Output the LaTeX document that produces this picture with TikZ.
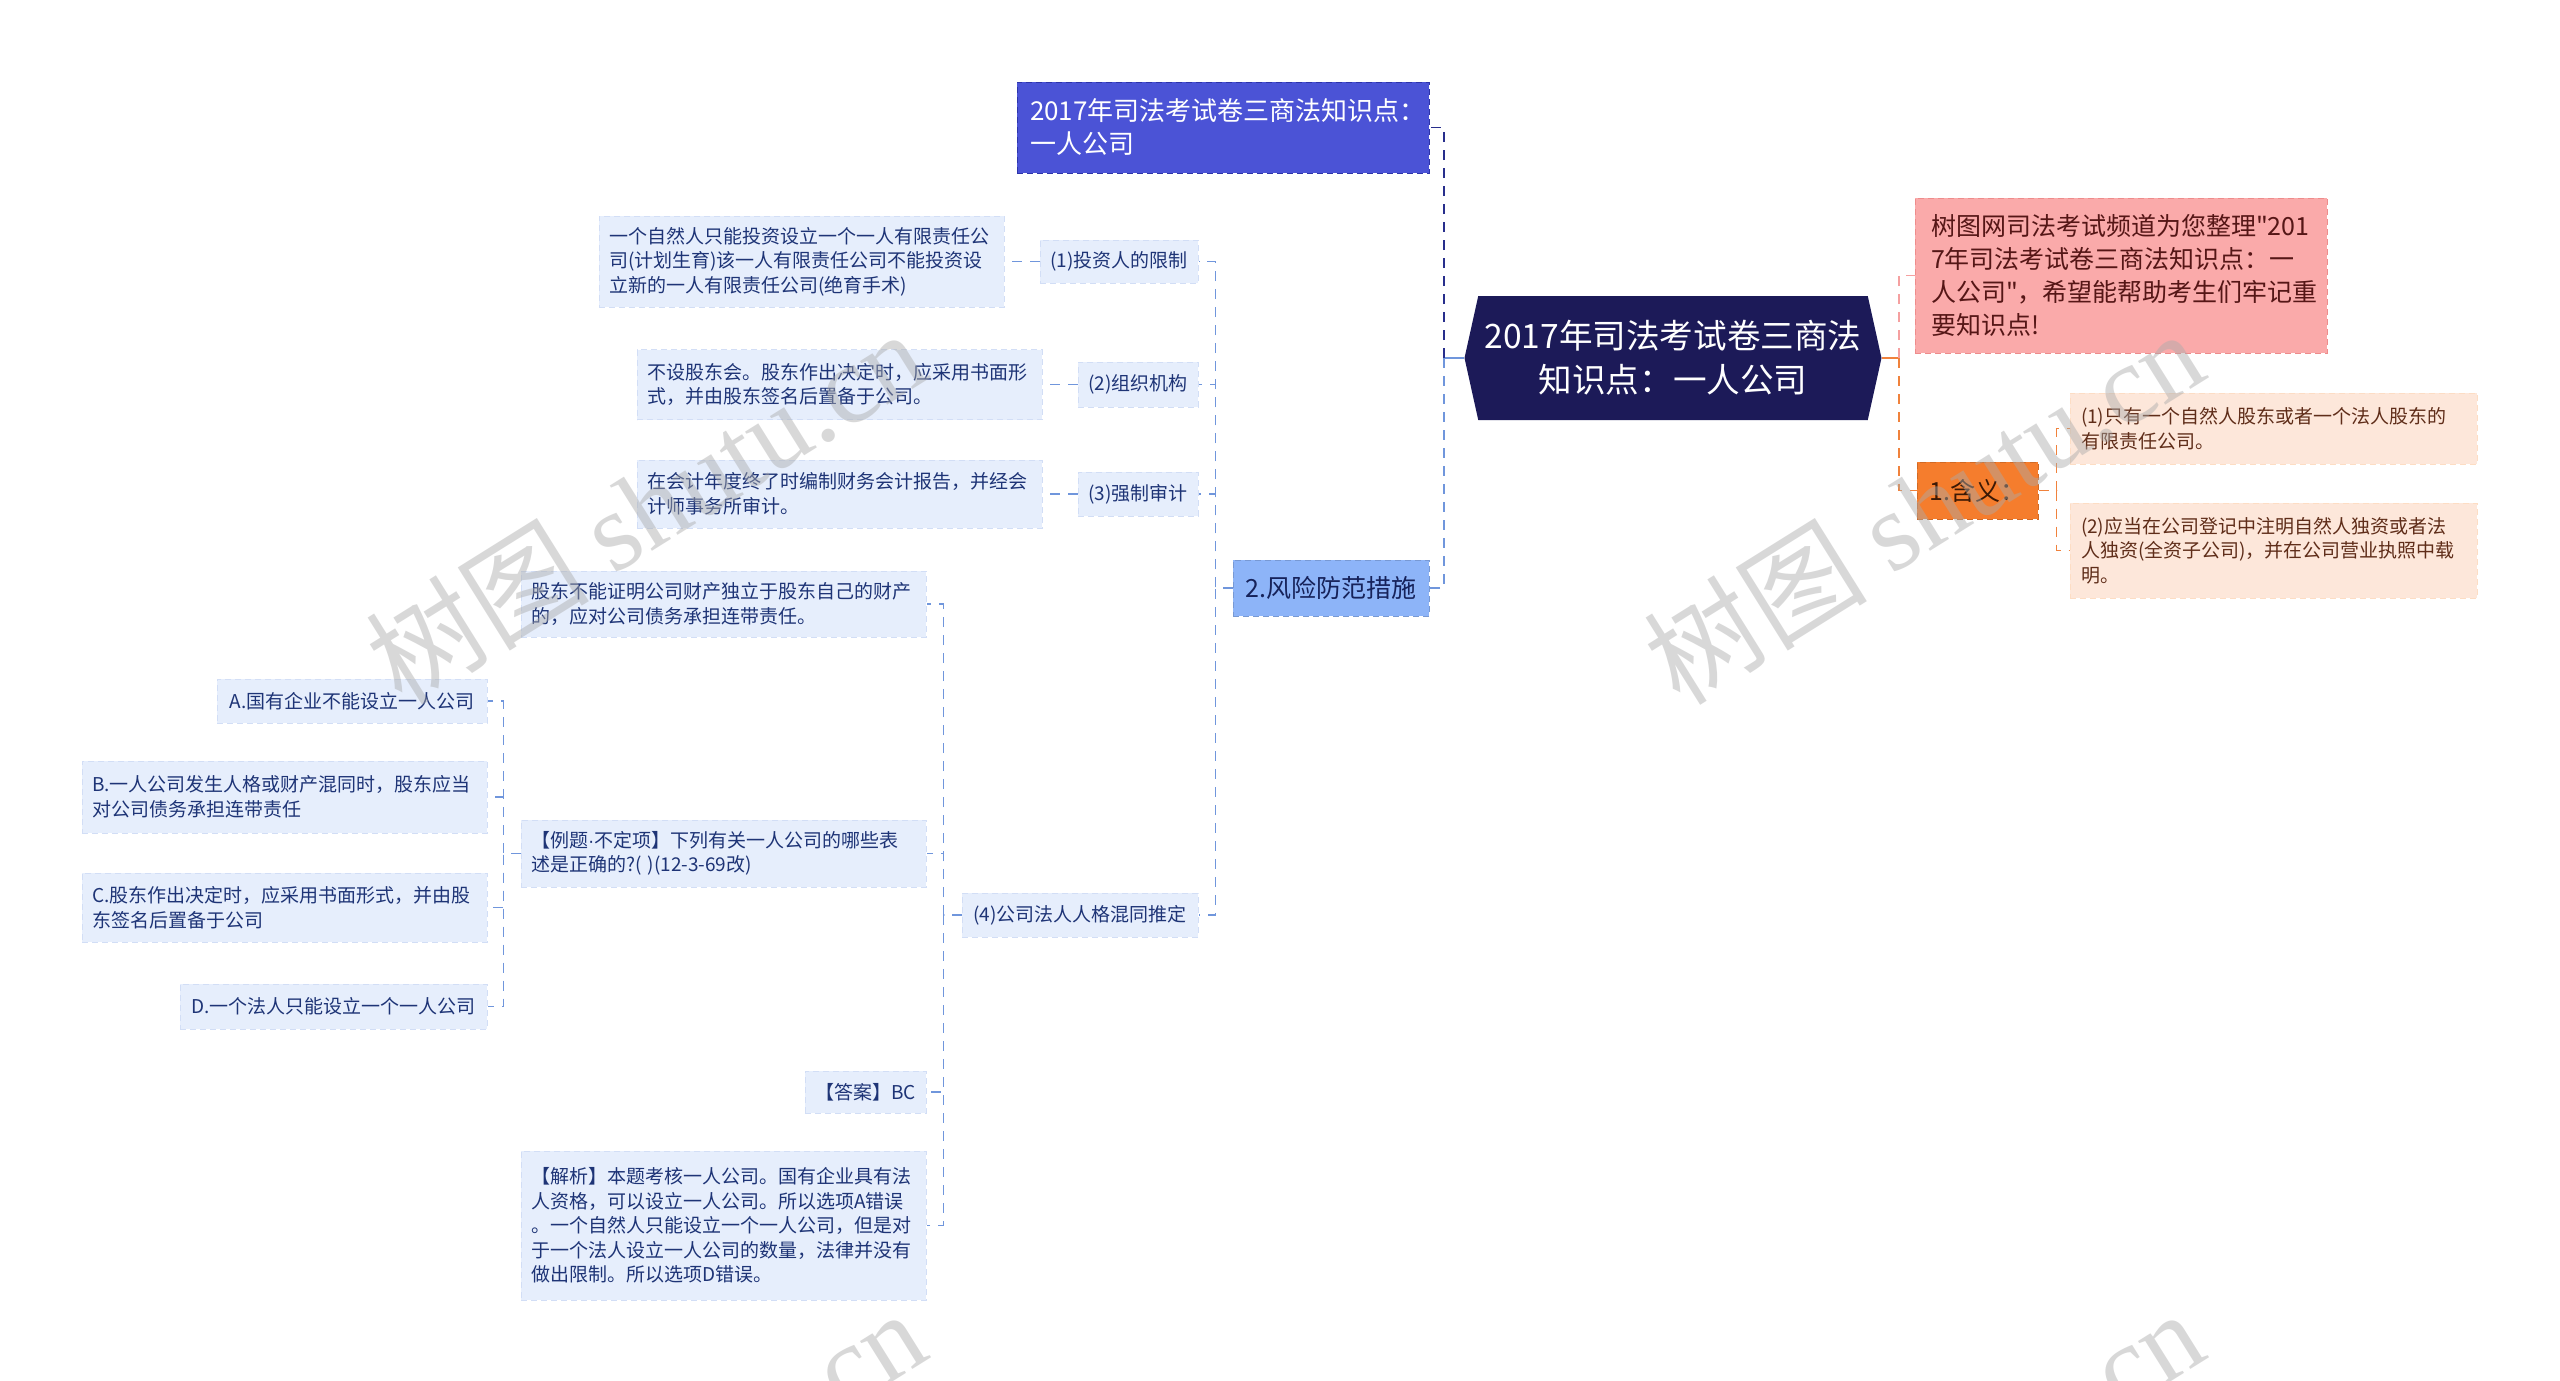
\documentclass[tikz,border=0pt]{standalone}
\usepackage{fontspec}
\setmainfont{Noto Sans CJK SC}
\newfontfamily\plainq{Noto Sans CJK SC}
\newfontfamily\dotfont{Liberation Sans}
\newfontfamily\markfont{Liberation Serif}
\usetikzlibrary{shapes.symbols,calc}
\definecolor{RootNavy}{RGB}{28,26,88}
\definecolor{TitleBlue}{RGB}{75,83,214}
\definecolor{TitleEdge}{RGB}{45,52,170}
\definecolor{RiskBlue}{RGB}{141,180,248}
\definecolor{LeafBlue}{RGB}{230,238,252}
\definecolor{LeafEdge}{RGB}{210,222,246}
\definecolor{InkBlue}{RGB}{30,52,118}
\definecolor{InkNavy}{RGB}{22,34,90}
\definecolor{LineBlue}{RGB}{112,150,220}
\definecolor{LineNavy}{RGB}{40,46,140}
\definecolor{NotePink}{RGB}{250,170,170}
\definecolor{PinkEdge}{RGB}{238,140,140}
\definecolor{LinePink}{RGB}{245,160,160}
\definecolor{InkRed}{RGB}{85,22,22}
\definecolor{MeanOrange}{RGB}{245,125,45}
\definecolor{LineOrange}{RGB}{240,130,60}
\definecolor{InkDark}{RGB}{60,25,5}
\definecolor{Peach}{RGB}{253,231,218}
\definecolor{InkBrown}{RGB}{95,45,25}
\definecolor{MarkGray}{RGB}{170,170,170}

\begin{document}
\begin{tikzpicture}[x=0.5pt,y=-0.5pt,
    conn/.style={LineBlue,line width=0.8pt,dash pattern=on 5pt off 4pt},
    card/.style={rectangle,inner xsep=5pt,inner ysep=0pt,line width=0.5pt,dash pattern=on 3pt off 2pt},
    leaf/.style={card,fill=LeafBlue,draw=LeafEdge,text=InkBlue,font=\fontsize{9.5pt}{12.3pt}\selectfont},
    note/.style={leaf,text width=192.5pt,align=left},
    tbox/.style={card,fill=TitleBlue,draw=TitleEdge,text=white,font=\fontsize{13pt}{16.5pt}\selectfont,text width=193pt,align=left,inner xsep=6.5pt},
    rootbox/.style={signal,signal to=west and east,signal pointer angle=155,fill=RootNavy,text=white,font=\fontsize{16.8pt}{22pt}\selectfont,align=center,minimum width=208.5pt,minimum height=62pt,inner sep=0pt},
    pinkbox/.style={card,fill=NotePink,draw=PinkEdge,text=InkRed,font=\fontsize{12.5pt}{16.5pt}\selectfont,text width=190pt,align=left,inner xsep=8pt},
    meanbox/.style={card,fill=MeanOrange,draw=MeanOrange!85!black,text=InkDark,font=\fontsize{12.5pt}{15pt}\selectfont},
    peachbox/.style={card,fill=Peach,draw=Peach!90!orange,text=InkBrown,font=\fontsize{9.5pt}{12.3pt}\selectfont,text width=192.5pt,align=left,inner xsep=5.5pt},
    riskbox/.style={card,fill=RiskBlue,draw=RiskBlue!85!black,text=InkNavy,font=\fontsize{12.5pt}{15pt}\selectfont},
    wmark/.style={rotate=32,text=MarkGray,opacity=0.45,font=\fontsize{56pt}{56pt}\selectfont}]
  \useasboundingbox (0,0) rectangle (2560,1381);
  \fill[white] (0,0) rectangle (2560,1381);
  \clip (0,0) rectangle (2560,1381);

  % centre and first level
  \node[rootbox] (root) at (1673,358) {2017年司法考试卷三商法\\知识点：一人公司};
  \node[tbox,minimum height=45.5pt] (title) at (1223,127.5) {2017年司法考试卷三商法知识点：\\一人公司};
  \node[riskbox,minimum width=98pt,minimum height=28pt] (risk) at (1331,588) {2.风险防范措施};
  \node[pinkbox,minimum height=77.5pt] (pink) at (2121,275.5) {树图网司法考试频道为您整理{\plainq"}201\\7年司法考试卷三商法知识点：一\\人公司{\plainq"}，希望能帮助考生们牢记重\\要知识点!};
  \node[meanbox,minimum width=60.5pt,minimum height=28.5pt] (mean) at (1977.5,490.5) {1.含义：};
  \node[peachbox,minimum height=35.5pt] (peach1) at (2273.5,428.5) {(1)只有一个自然人股东或者一个法人股东的\\有限责任公司。};
  \node[peachbox,minimum height=47.5pt] (peach2) at (2273.5,550.5) {(2)应当在公司登记中注明自然人独资或者法\\人独资(全资子公司)，并在公司营业执照中载\\明。};

  % risk branch
  \node[leaf,minimum width=79pt,minimum height=21.5pt] (lim) at (1119,261.5) {(1)投资人的限制};
  \node[note,minimum height=45.5pt] (limtxt) at (801.5,261.5) {一个自然人只能投资设立一个一人有限责任公\\司(计划生育)该一人有限责任公司不能投资设\\立新的一人有限责任公司(绝育手术)};
  \node[leaf,minimum width=60pt,minimum height=22.5pt] (org) at (1138,384.5) {(2)组织机构};
  \node[note,minimum height=35pt] (orgtxt) at (839.5,384.5) {不设股东会。股东作出决定时，应采用书面形\\式，并由股东签名后置备于公司。};
  \node[leaf,minimum width=60pt,minimum height=22pt] (aud) at (1138,494) {(3)强制审计};
  \node[note,minimum height=34pt] (audtxt) at (839.5,494) {在会计年度终了时编制财务会计报告，并经会\\计师事务所审计。};
  \node[leaf,minimum width=118pt,minimum height=22pt] (mix) at (1080,915) {(4)公司法人人格混同推定};
  \node[note,minimum height=33pt] (prove) at (723.5,604) {股东不能证明公司财产独立于股东自己的财产\\的，应对公司债务承担连带责任。};
  \node[note,minimum height=33.5pt] (quiz) at (723.5,853.5) {【例题{\dotfont·}不定项】下列有关一人公司的哪些表\\述是正确的?( )(12-3-69改)};
  \node[leaf,minimum width=60.5pt,minimum height=21pt] (ans) at (865.5,1092) {【答案】BC};
  \node[note,minimum height=74.5pt] (expl) at (723.5,1225.5) {【解析】本题考核一人公司。国有企业具有法\\人资格，可以设立一人公司。所以选项A错误\\。一个自然人只能设立一个一人公司，但是对\\于一个法人设立一人公司的数量，法律并没有\\做出限制。所以选项D错误。};
  \node[leaf,minimum width=135pt,minimum height=22pt] (optA) at (352,701) {A.国有企业不能设立一人公司};
  \node[note,minimum height=36pt] (optB) at (284.5,797) {B.一人公司发生人格或财产混同时，股东应当\\对公司债务承担连带责任};
  \node[note,minimum height=34.5pt] (optC) at (284.5,907.5) {C.股东作出决定时，应采用书面形式，并由股\\东签名后置备于公司};
  \node[leaf,minimum width=153.5pt,minimum height=22.5pt] (optD) at (333.5,1006.5) {D.一个法人只能设立一个一人公司};

  % connectors
  \draw[LineBlue,line width=1pt] (root.west) -- ++(-20,0);
  \draw[conn,LineNavy] (root.west) ++(-20,0) |- (title.east);
  \draw[conn] (root.west) ++(-20,0) |- (risk.east);
  \draw[LineOrange,line width=1pt] (root.east) -- ++(17,0);
  \draw[conn,LinePink] (root.east) ++(17,0) |- (pink.west);
  \draw[conn,LineOrange] (root.east) ++(17,0) |- (mean.west);
  \foreach \k in {peach1,peach2}
    \draw[conn,LineOrange] (mean.east) -- ++(18,0) |- (\k.west);
  \foreach \k in {lim,org,aud,mix}
    \draw[conn] (risk.west) -- ++(-17,0) |- (\k.east);
  \foreach \k/\t in {lim/limtxt,org/orgtxt,aud/audtxt}
    \draw[conn] (\k.west) -- (\t.east);
  \foreach \k in {prove,quiz,ans,expl}
    \draw[conn] (mix.west) -- ++(-18,0) |- (\k.east);
  \foreach \k in {optA,optB,optC,optD}
    \draw[conn] (quiz.west) -- ++(-17,0) |- (\k.east);

  % watermarks
  \foreach \wx/\wy [count=\i] in {645/506,1923/506,645/1486,1923/1486}
    \node[wmark] (mark\i) at (\wx,\wy) {树图 {\markfont shutu.cn}};
\end{tikzpicture}
\end{document}
